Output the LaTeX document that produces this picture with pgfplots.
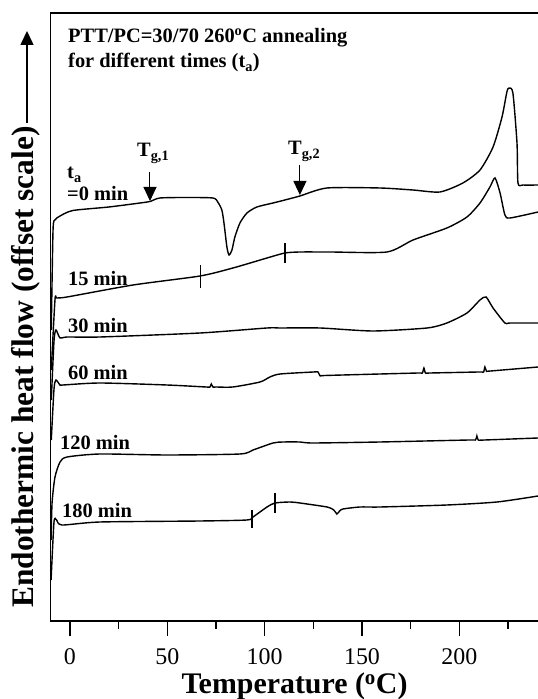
\documentclass[border=0pt]{standalone}
\usepackage{fontspec}
\setmainfont{Liberation Serif}
\usepackage{pgfplots}
\pgfplotsset{compat=1.18}
\usetikzlibrary{arrows.meta}
\begin{document}
\begin{tikzpicture}[curve/.style={black, solid, line width=1.4bp, smooth, tension=0.4, mark=none},
  mk/.style={black, solid, sharp plot, line width=1.2bp, mark=none}]
\useasboundingbox (0bp,0bp) rectangle (538bp,699bp);
\begin{axis}[
  at={(50.5bp,78bp)}, anchor=south west,
  scale only axis, width=495bp, height=608bp,
  xmin=-10, xmax=244.24, ymin=0, ymax=608,
  axis line style={line width=1.5bp},
  xtick={0,50,100,150,200}, minor xtick={25,75,125,175,225},
  ytick=\empty, xtick pos=left,
  xtick align=outside,
  major tick length=15bp, minor tick length=8bp,
  every tick/.style={line width=1.5bp, black},
  tick label style={font=\fontsize{24}{24}\selectfont},
  xticklabel style={yshift=-9bp},
  /pgf/number format/assume math mode=true,
]
% 0 min
\addplot[curve] coordinates {(-9.6,291) (-8.7,391) (-7.7,401) (-5.1,405) (1.5,410.5) (20,414) (36,418) (41.1,419.5) (46.2,423) (60,423.5) (73.4,423) (75.9,419) (78,411) (79.1,398) (80.6,374) (81.7,366) (83.2,371) (84.7,384) (87.3,398) (90.9,408) (96,414) (104.3,418) (110.4,421) (118.1,425) (132,433) (159.2,433) (176.2,431) (190,429) (201.8,438) (210.6,451) (217.3,474) (221.9,504) (224.4,529) (225.5,533) (227.5,528) (229.6,478) (230.1,438) (232.7,436) (240.4,436)};
% 15 min
\addplot[curve] coordinates {(-9.6,251) (-7.7,321) (-6.7,323) (-1.5,324) (32.4,336) (66.8,345) (83.7,353) (101.2,363) (110.4,368) (118.1,369) (133.5,369) (162.8,369) (176.2,381) (193.6,393) (203.9,404) (210.6,418) (215.7,434) (218.3,443) (220.9,428) (223.4,406) (226,403) (240.4,409)};
% 30 min
\addplot[curve] coordinates {(-9.6,221) (-8.2,280) (-7.2,291) (-5.1,283) (-1.5,284) (15.4,284) (66.8,288) (101.2,293) (107.9,293) (128.4,293) (155.6,290) (183.4,293) (193.6,298) (203.9,308) (210.6,321) (213.7,324) (217.3,313) (223.4,298) (226,298) (240.4,298)};
% 60 min
\addplot[curve] coordinates {(-9.6,181) (-8.2,232) (-7.2,241) (-5.1,236) (-3.6,236) (15.4,238) (49.8,236) (70,234) (71.9,234) (72.6,237) (73.4,234) (75,234) (83.7,234) (97.6,239) (102.7,244) (107.9,247) (125,249) (127.4,249) (128.5,245) (131,245.5) (159.2,247) (179,248) (181,248) (181.8,253) (182.6,248) (185,248) (210,249) (212.4,249) (213.1,254) (213.9,250) (216,250) (240.4,254)};
% 120 min
\addplot[curve] coordinates {(-9.7,81) (-9.2,118) (-7.7,144) (-5.1,159) (-1.5,164) (15.4,167) (49.8,166) (87.3,167) (94,171) (104.3,178) (109.4,179) (118.1,179) (124.8,178) (159.2,179) (205,181) (208.3,181) (209,185) (209.7,181) (213,181) (240.4,183)};
% 180 min
\addplot[curve] coordinates {(-9.7,41) (-8.2,99) (-6.9,101) (-4.1,96) (15.4,99) (66.8,100) (90.9,101) (94,104) (101.2,114) (105.3,118) (113,119) (118.1,118) (132,114) (135.5,111) (137.1,107) (138.5,110) (140.2,112) (148.9,114) (159.2,114) (193.6,116) (219.3,119) (240.4,125)};
% Tg markers
\addplot[mk] coordinates {(67,333) (67,356)};
\addplot[mk] coordinates {(110.4,358) (110.4,378)};
\addplot[mk] coordinates {(93.5,93) (93.5,111)};
\addplot[mk] coordinates {(105.3,108) (105.3,128)};
\draw[line width=1bp, -{Triangle[width=13bp,length=14bp]}] (axis cs:41.1,449) -- (axis cs:41.1,420);
\draw[line width=1bp, -{Triangle[width=13bp,length=14bp]}] (axis cs:118.1,456) -- (axis cs:118.1,426);
\end{axis}
\begin{scope}[every node/.style={inner sep=0pt, font=\fontsize{20.5}{20.5}\selectfont\bfseries}]
\node[anchor=base west] at (68bp,656bp) {PTT/PC=30/70 260\textsuperscript{o}C annealing};
\node[anchor=base west] at (68bp,631bp) {for different times (t\textsubscript{a})};
\node[anchor=base west] at (137bp,542bp) {T\textsubscript{g,1}};
\node[anchor=base west] at (288bp,544bp) {T\textsubscript{g,2}};
\node[anchor=base west] at (67bp,520bp) {t\textsubscript{a}};
\node[anchor=base west] at (67bp,498bp) {=0 min};
\node[anchor=base west] at (68bp,413bp) {15 min};
\node[anchor=base west] at (68bp,366bp) {30 min};
\node[anchor=base west] at (68bp,319bp) {60 min};
\node[anchor=base west] at (60bp,249bp) {120 min};
\node[anchor=base west] at (62bp,181bp) {180 min};
\end{scope}
\node[anchor=base, inner sep=0pt, font=\fontsize{30}{30}\selectfont\bfseries] at (294.5bp,6bp) {Temperature (\textsuperscript{o}C)};
\node[rotate=90, anchor=base, inner sep=0pt, font=\fontsize{31.5}{31.5}\selectfont\bfseries] at (33bp,332bp) {Endothermic heat flow (offset scale)};
\draw[line width=1.5bp, -{Triangle[width=13bp,length=14bp]}] (27bp,576bp) -- (27bp,668bp);
\end{tikzpicture}
\end{document}
